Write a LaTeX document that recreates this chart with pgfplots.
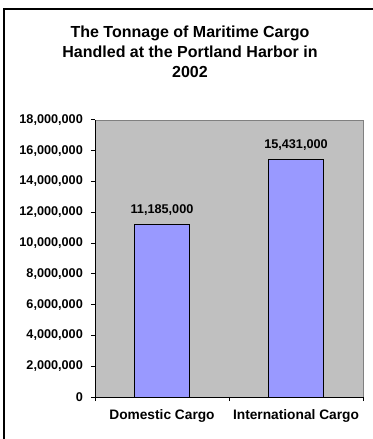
\documentclass[border=0pt]{standalone}
\usepackage{pgfplots}
\pgfplotsset{compat=1.18}
\usepackage{fontspec}
\setmainfont{Liberation Sans}
\definecolor{barfill}{HTML}{9999FF}
\definecolor{plotbg}{HTML}{C0C0C0}
\definecolor{plotborder}{HTML}{808080}
\begin{document}
\begin{tikzpicture}
\useasboundingbox (0,0) rectangle (279pt,329.25pt);
% outer frame (left and top visible, right and bottom cut off)
\draw[line width=1.3pt] (3pt,-2pt) -- (3pt,322.5pt) -- (282pt,322.5pt);
\node[align=center, font=\bfseries\fontsize{12}{15}\selectfont] at (142.5pt,290.25pt)
  {The Tonnage of Maritime Cargo\\Handled at the Portland Harbor in\\2002};
\begin{axis}[
  at={(71.25pt,31.5pt)}, anchor=south west,
  width=201pt, height=207.75pt, scale only axis,
  xmin=0, xmax=2, ymin=0, ymax=18000000,
  axis background/.style={fill=plotbg, draw=plotborder, line width=0.6pt},
  axis x line*=bottom, axis y line*=left,
  axis line style={black, line width=0.75pt, -},
  tick align=outside, major tick length=3pt,
  tick style={black, line width=0.75pt},
  ytick distance=2000000,
  scaled y ticks=false,
  yticklabel style={font=\bfseries\fontsize{9.5}{11}\selectfont, xshift=-2.6pt,
    /pgf/number format/.cd, fixed, 1000 sep={,}, assume math mode=true},
  xtick={0,1,2}, xticklabels={},
  extra x ticks={0.5,1.5},
  extra x tick labels={Domestic Cargo, International Cargo},
  extra x tick style={major tick length=0pt, tick style={draw=none},
    xticklabel style={font=\bfseries\fontsize{10.3}{12}\selectfont, yshift=-6pt}},
  ybar, bar width=0.41,
  point meta=explicit symbolic,
  nodes near coords,
  every node near coord/.append style={font=\bfseries\fontsize{9.5}{11}\selectfont,
    anchor=base, yshift=8.6pt, inner sep=0pt},
]
\addplot[fill=barfill, draw=black, line width=0.75pt] coordinates {
  (0.5,11185000) [11,185,000]
  (1.5,15431000) [15,431,000]
};
\end{axis}
\end{tikzpicture}
\end{document}
